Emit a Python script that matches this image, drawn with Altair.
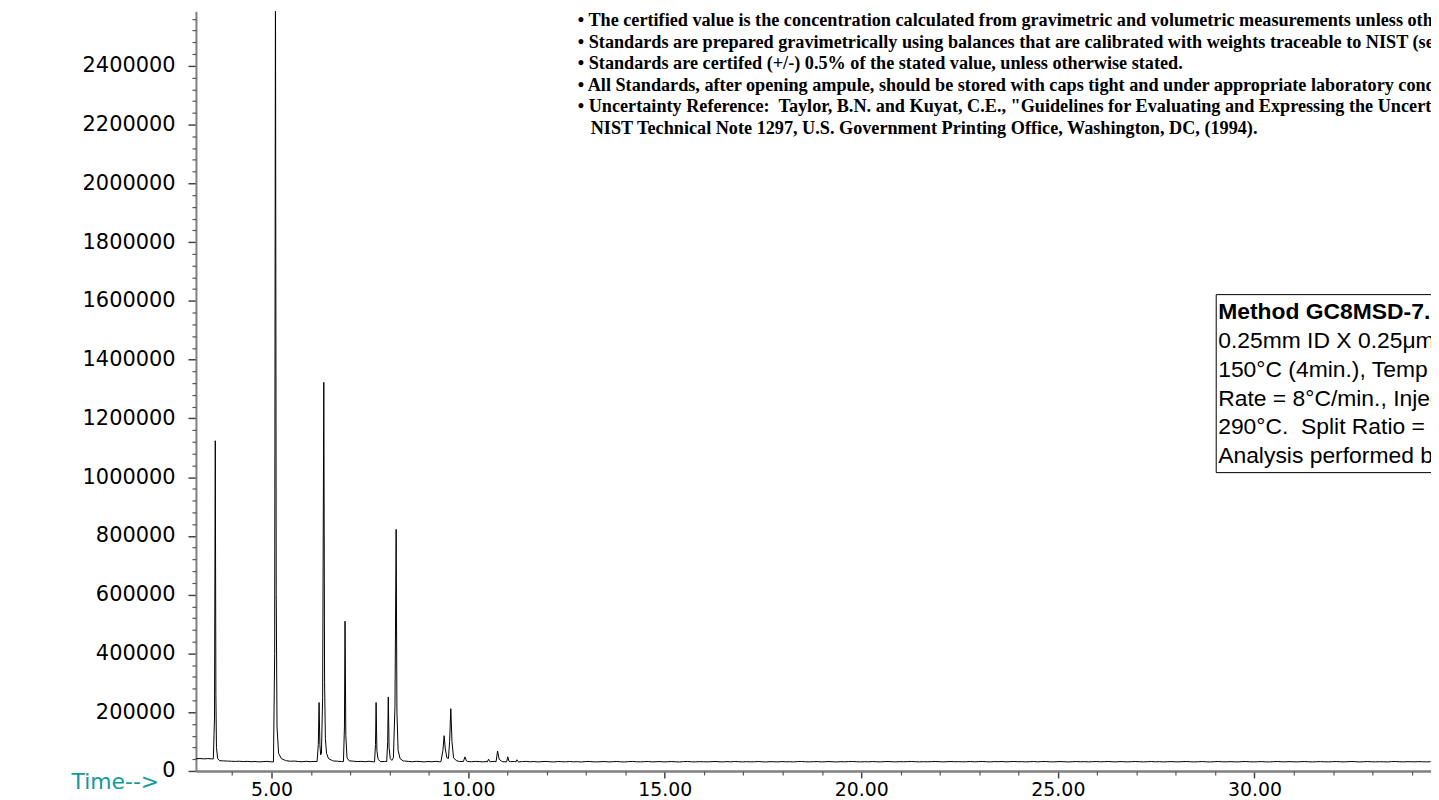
import altair as alt
import pandas as pd

# ---------------- data ----------------
# baseline (detector noise) sampled every 0.1 min, values in thousands of counts
baseline_start = 3.08
baseline_step = 0.1
baseline_k = [
    41.5, 42.3, 41.0, 42.0, 41.2, 40.0, 35.5, 34.2, 33.6, 33.0,
    32.4, 33.1, 31.8, 32.6, 31.5, 32.2, 30.9, 31.7, 32.5, 31.2,
    31.0, 40.0, 36.5, 34.8, 33.0, 33.6, 32.2, 31.4, 32.8, 31.6,
    32.3, 32.0, 33.0, 33.0, 33.0, 34.0, 33.1, 32.0, 33.0, 34.5,
    33.2, 31.8, 32.6, 31.4, 32.9, 31.2, 32.5, 31.6, 32.4, 33.0,
    33.0, 33.0, 33.0, 33.8, 32.5, 31.3, 32.7, 31.9, 30.8, 32.2,
    31.4, 32.6, 31.0, 32.3, 31.5, 32.8, 33.5, 32.2, 31.6, 32.4,
    31.2, 32.5, 31.8, 30.9, 32.1, 31.4, 32.7, 33.0, 31.5, 32.2,
    31.6, 32.3, 30.8, 31.9, 32.6, 31.1, 32.0, 30.7, 31.8, 32.4,
    31.3, 30.6, 32.1, 31.5, 30.9, 32.2, 31.0, 31.7, 30.5, 31.9,
    32.3, 31.1, 30.8, 31.6, 32.0, 30.7, 31.4, 32.2, 31.0, 30.6,
    31.8, 32.4, 31.2, 30.9, 31.5, 32.1, 30.8, 31.3, 31.9, 30.7,
    31.4, 32.0, 31.1, 30.6, 31.7, 32.3, 31.0, 30.8, 31.6, 31.2,
    30.9, 31.5, 32.1, 31.3, 30.7, 31.8, 31.0, 32.2, 31.4, 30.8,
    31.6, 30.9, 31.3, 32.0, 31.1, 30.6, 31.7, 31.2, 30.8, 31.9,
    31.0, 31.5, 30.7, 31.8, 32.1, 31.2, 30.9, 31.4, 31.9, 30.8,
    31.3, 32.0, 31.1, 30.7, 31.6, 31.0, 31.8, 32.2, 31.3, 30.9,
    31.5, 31.0, 31.9, 31.4, 30.8, 31.7, 32.1, 31.2, 30.9, 31.6,
    31.1, 31.8, 32.2, 31.3, 30.9, 31.5, 31.0, 31.7, 32.3, 31.4,
    30.8, 31.6, 32.0, 31.2, 31.7, 30.9, 31.4, 32.1, 31.0, 31.8,
    32.2, 31.3, 30.8, 31.9, 31.5, 32.0, 31.1, 31.6, 32.3, 31.2,
    31.7, 30.9, 31.4, 32.1, 31.0, 31.8, 32.2, 31.3, 30.8, 31.6,
    31.9, 31.2, 30.7, 31.5, 32.0, 31.1, 31.7, 30.9, 31.4, 32.1,
    31.0, 31.6, 32.2, 31.3, 30.8, 31.9, 31.4, 30.9, 31.7, 32.0,
    31.2, 30.8, 31.5, 32.1, 31.0, 31.6, 30.7, 31.3, 31.9, 31.1,
    30.9, 31.7, 32.0, 31.2, 30.8, 31.4, 31.9, 31.0, 30.6, 31.5,
    32.1, 31.3, 30.9, 31.6, 31.1, 30.7, 31.8, 32.0, 31.2, 30.8,
    31.4, 31.9, 31.0, 30.6, 31.5, 32.1, 31.3, 30.9, 31.7, 31.2,
    30.8, 31.6, 32.0, 31.1, 30.7, 31.4, 31.8, 31.0, 30.9, 31.5,
    31.9, 31.2, 30.8, 31.6, 32.1, 31.3, 30.7, 31.4, 31.9, 31.1,
    30.9, 31.5, 31.1, 30.6, 31.7, 32.0, 31.2, 30.8, 31.6, 31.3,
    31.0, 31.7, 31.2, 30.8, 31.5,
]

# peaks: explicit (time, abundance) points
peak_t = [
    [3.52, 3.55, 3.57, 3.585, 3.60, 3.63, 3.68],
    [5.05, 5.08, 5.10, 5.12, 5.14, 5.18, 5.25, 5.35],
    [6.16, 6.19, 6.21, 6.23, 6.25, 6.27, 6.30, 6.33, 6.35, 6.37, 6.40, 6.45, 6.55],
    [6.83, 6.855, 6.87, 6.89, 6.92, 6.97],
    [7.62, 7.645, 7.66, 7.68, 7.71, 7.76],
    [7.93, 7.955, 7.97, 7.99, 8.02, 8.06, 8.10, 8.14, 8.17, 8.19, 8.22, 8.27, 8.35],
    [9.31, 9.36, 9.39, 9.42, 9.46, 9.50, 9.53, 9.56, 9.59, 9.63, 9.70],
    [9.88, 9.92, 9.96],
    [10.49, 10.52, 10.55],
    [10.71, 10.75, 10.79, 10.85],
    [10.98, 11.01, 11.04],
    [11.22, 11.24, 11.27],
]
peak_v = [
    [41000, 180000, 1124000, 260000, 80000, 42000, 35000],
    [31000, 400000, 2750000, 600000, 150000, 60000, 42000, 36000],
    [32000, 90000, 232800, 90000, 55000, 60000, 250000, 1322700, 300000, 110000, 60000, 42000, 35000],
    [32000, 150000, 509500, 120000, 45000, 35000],
    [31000, 90000, 232800, 70000, 40000, 33000],
    [32000, 100000, 252000, 80000, 42000, 36000, 45000, 220000, 822300, 200000, 70000, 42000, 34000],
    [32000, 70000, 120000, 75000, 45000, 42000, 100000, 212000, 100000, 45000, 35000],
    [32000, 48000, 34000],
    [31000, 40000, 32000],
    [31000, 67800, 40000, 33000],
    [31000, 48000, 33000],
    [31000, 38000, 32000],
]

x_major = [5, 10, 15, 20, 25, 30]
x_minor = [4, 6, 7, 8, 9, 11, 12, 13, 14, 16, 17, 18, 19, 21, 22, 23, 24,
           26, 27, 28, 29, 31, 32, 33, 34]
y_major = [0, 200000, 400000, 600000, 800000, 1000000, 1200000, 1400000,
           1600000, 1800000, 2000000, 2200000, 2400000]
y_minor = [v for v in range(0, 2560001, 40000) if v % 200000 != 0]

notes = [
    "\u2022 The certified value is the concentration calculated from gravimetric and volumetric measurements unless otherwise stated.",
    "\u2022 Standards are prepared gravimetrically using balances that are calibrated with weights traceable to NIST (see",
    "\u2022 Standards are certifed (+/-) 0.5% of the stated value, unless otherwise stated.",
    "\u2022 All Standards, after opening ampule, should be stored with caps tight and under appropriate laboratory conditions.",
    "\u2022 Uncertainty Reference:\u00a0 Taylor, B.N. and Kuyat, C.E., \"Guidelines for Evaluating and Expressing the Uncertainty",
]
note_last = "NIST Technical Note 1297, U.S. Government Printing Office, Washington, DC, (1994)."

method_title = "Method GC8MSD-7.M"
method_lines = [
    "0.25mm ID X 0.25\u03bcm film,",
    "150\u00b0C (4min.), Temp Program",
    "Rate = 8\u00b0C/min., Injector",
    "290\u00b0C.\u00a0 Split Ratio = 10:1.",
    "Analysis performed by",
]

# ---------------- build table ----------------
windows = [(min(t), max(t)) for t in peak_t]
rows = []
for i, v in enumerate(baseline_k):
    t = round(baseline_start + i * baseline_step, 2)
    if any(a <= t <= b for a, b in windows):
        continue
    rows.append((t, v * 1000))
for ts, vs in zip(peak_t, peak_v):
    rows += list(zip(ts, vs))
df = pd.DataFrame(rows, columns=["time", "abundance"]).sort_values("time")

W, H = 1242, 764
X0, X1 = 3.078, 34.49
Y1 = 2586000

xs = alt.Scale(domain=[X0, X1], nice=False, zero=False)
ys = alt.Scale(domain=[0, Y1], nice=False, zero=False)

FONT_AX = "DejaVu Sans"

major_x = alt.Axis(values=x_major, format=".2f", orient="bottom", tickSize=7, tickWidth=1.5,
                   tickColor="#444444", domainColor="#808080", domainWidth=2.5,
                   labelFont=FONT_AX, labelFontSize=19, labelColor="black",
                   labelPadding=3, grid=False, title=None, labelFlush=False)
minor_x = alt.Axis(values=x_minor, orient="bottom", tickSize=4, tickWidth=1.2,
                   tickColor="#555555", labels=False, domain=False, grid=False, title=None)
major_y = alt.Axis(values=y_major, format="d", orient="left", tickSize=8, tickWidth=1.5,
                   tickColor="#444444", domainColor="#808080", domainWidth=2,
                   labelFont=FONT_AX, labelFontSize=21, labelColor="black",
                   labelPadding=13, grid=False, title=None, labelFlush=False)
minor_y = alt.Axis(values=y_minor, orient="left", tickSize=4, tickWidth=1.2,
                   tickColor="#555555", labels=False, domain=False, grid=False, title=None)

trace = alt.Chart(df).mark_line(color="black", strokeWidth=1, clip=True).encode(
    x=alt.X("time:Q", scale=xs, axis=major_x),
    y=alt.Y("abundance:Q", scale=ys, axis=major_y),
)
minor = alt.Chart(df).mark_line(opacity=0, clip=True).encode(
    x=alt.X("time:Q", scale=xs, axis=minor_x),
    y=alt.Y("abundance:Q", scale=ys, axis=minor_y),
)

one = pd.DataFrame({"k": [0]})
layers = [trace, minor]

NOTE_FS = 18.3
NOTE_LH = 21.6
# note block (bold serif)
for i, line in enumerate(notes):
    layers.append(alt.Chart(one).mark_text(
        font="Liberation Serif", fontWeight="bold", fontSize=NOTE_FS, align="left",
        baseline="alphabetic", color="black").encode(
        x=alt.value(384), y=alt.value(15 + NOTE_LH * i), text=alt.value(line)))
layers.append(alt.Chart(one).mark_text(
    font="Liberation Serif", fontWeight="bold", fontSize=NOTE_FS, align="left",
    baseline="alphabetic", color="black").encode(
    x=alt.value(397), y=alt.value(15 + NOTE_LH * 5), text=alt.value(note_last)))

# method box
layers.append(alt.Chart(one).mark_rect(fill="white", stroke="black", strokeWidth=1).encode(
    x=alt.value(1026), x2=alt.value(1400), y=alt.value(285), y2=alt.value(464)))
layers.append(alt.Chart(one).mark_text(
    font="Liberation Sans", fontWeight="bold", fontSize=23, align="left",
    baseline="alphabetic", color="black").encode(
    x=alt.value(1028), y=alt.value(309.5), text=alt.value(method_title)))
for i, line in enumerate(method_lines):
    layers.append(alt.Chart(one).mark_text(
        font="Liberation Sans", fontSize=23, align="left",
        baseline="alphabetic", color="black").encode(
        x=alt.value(1028), y=alt.value(309.5 + 29 * (i + 1)), text=alt.value(line)))

# Time--> label
layers.append(alt.Chart(one).mark_text(
    font=FONT_AX, fontSize=22, align="right", baseline="alphabetic",
    color="#139a9a").encode(
    x=alt.value(-37), y=alt.value(782), text=alt.value("Time-->")))

chart = alt.layer(*layers).resolve_axis(x="independent", y="independent").properties(
    width=W, height=H,
    autosize=alt.AutoSizeParams(type="none"),
    padding={"left": 189, "top": 1, "right": 0, "bottom": 30},
    background="white",
).configure_view(stroke=None)

chart.save("out.html", embed_options={"renderer": "svg", "actions": False})
